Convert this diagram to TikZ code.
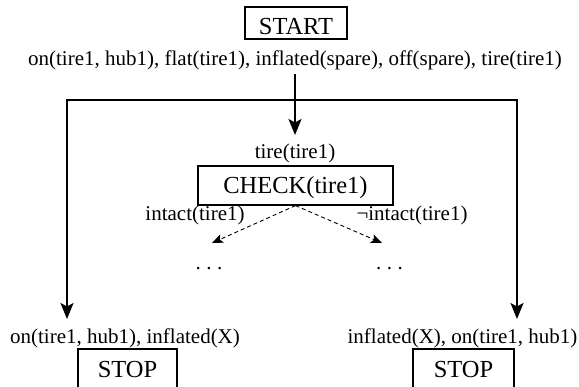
\documentclass[tikz,border=0pt]{standalone}
\usepackage{fontspec}
\setmainfont{Liberation Serif}
\usetikzlibrary{arrows.meta}
\begin{document}
\begin{tikzpicture}[x=1pt,y=-1pt,
  lbl/.style={font=\fontsize{21}{25}\selectfont, inner sep=0pt, anchor=base},
  box/.style={draw, line width=1.2pt, inner sep=0pt, anchor=base, font=\fontsize{24.5}{29}\selectfont},
  mainarrow/.style={line width=2pt, -{Stealth[length=16pt,width=13pt,inset=3.5pt]}},
  dasharrow/.style={line width=0.9pt, dash pattern=on 4pt off 3pt, -{Stealth[length=11pt,width=9pt,inset=2.5pt]}}
]
\clip (0,0) rectangle (579,387);
\fill[white] (0,0) rectangle (579,387);

\node[box, minimum width=102pt, text height=28pt, text depth=4pt] (start) at (296,35) {START};
\node[lbl] (init) at (295,66) {on(tire1, hub1), flat(tire1), inflated(spare), off(spare), tire(tire1)};

\coordinate (split) at (295,100);
\coordinate (tipc) at (295,135);
\coordinate (tipl) at (67,319);
\coordinate (tipr) at (517,319);

\draw[mainarrow, shorten <=3pt] (init.south) -- (tipc);
\draw[mainarrow] (split) -| (tipl);
\draw[mainarrow] (split) -| (tipr);

\node[lbl] (pre) at (295,159) {tire(tire1)};
\node[box, minimum width=195pt, text height=27.5pt, text depth=11.5pt] (check) at (295.5,193.5) {CHECK(tire1)};

\node[lbl] (lyes) at (195,221) {intact(tire1)};
\node[lbl] (lno) at (412,221) {¬intact(tire1)};

\coordinate (tipa) at (212,243);
\coordinate (tipb) at (382,243);
\draw[dasharrow] (check.south) -- (tipa);
\draw[dasharrow] (check.south) -- (tipb);

\node[lbl] (dotsa) at (209,270) {.\hspace{5.5pt}.\hspace{5.5pt}.};
\node[lbl] (dotsb) at (389.5,270) {.\hspace{5.5pt}.\hspace{5.5pt}.};

\node[lbl] (goall) at (125,344) {on(tire1, hub1), inflated(X)};
\node[lbl] (goalr) at (462.5,344) {inflated(X), on(tire1, hub1)};

\node[box, minimum width=99pt, text height=29pt, text depth=20pt] (stopl) at (127.5,378) {STOP};
\node[box, minimum width=101pt, text height=29pt, text depth=20pt] (stopr) at (463.5,378) {STOP};
\end{tikzpicture}
\end{document}
